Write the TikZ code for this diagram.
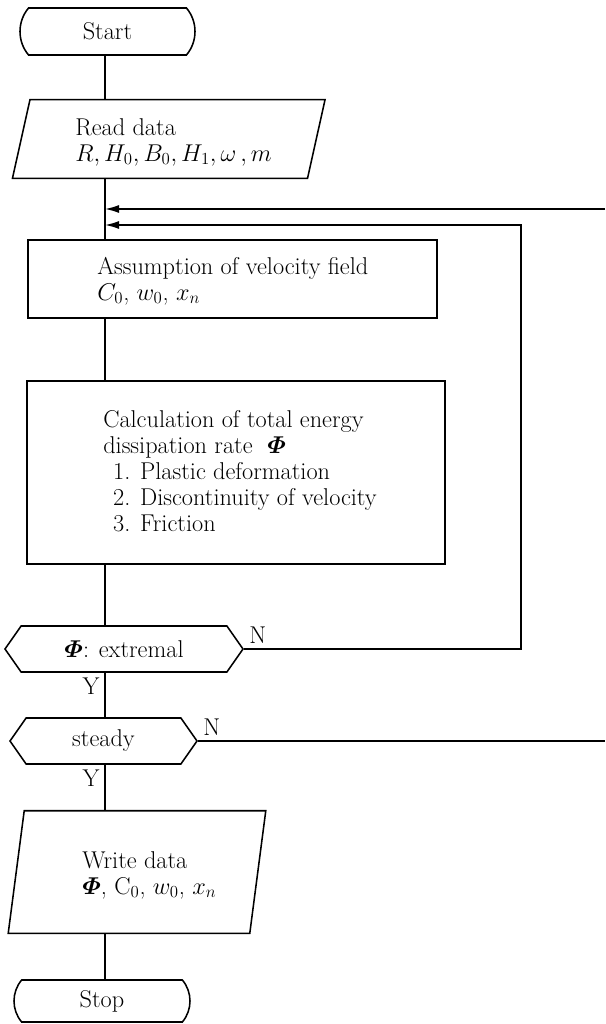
\documentclass[tikz,border=0pt]{standalone}
\usepackage{amsmath}
\usepackage{bm}
\usetikzlibrary{arrows.meta}
\usetikzlibrary{shapes.misc,shapes.symbols}
\tikzset{>={Latex[length=3.5mm,width=2mm]}}
\newcommand{\pu}{0.025cm}
\tikzset{
  flow/.style={draw, line width=1.1pt, inner sep=0pt},
  termbox/.style={flow, rounded rectangle, rounded rectangle arc length=80},
  iobox/.style={inner sep=0pt},
  procbox/.style={flow, rectangle},
  testbox/.style={flow, signal, signal to=west and east, signal pointer angle=110},
  txt/.style={anchor=west, align=left, inner sep=0pt},
  wire/.style={line width=1.1pt},
}

\begin{document}
\begin{tikzpicture}[x=0.025cm,y=-0.025cm,font=\fontsize{17.28}{18.5}\selectfont]
\useasboundingbox (0,0) rectangle (605,1024);
\coordinate (trunk) at (105,0);

\node[termbox, minimum width=175*\pu, minimum height=47*\pu] (start) at (107.5,31.5) {Start};

\node[iobox, minimum width=294.5*\pu, minimum height=78*\pu] (read) at (168.75,139) {};
\draw[wire] ([xshift=-8.75*\pu]read.south west) -- ([xshift=8.75*\pu]read.north west)
  -- ([xshift=8.75*\pu]read.north east) -- ([xshift=-8.75*\pu]read.south east) -- cycle;
\node[txt] (readtext) at (75,142) {Read data\\ $R, H_0, B_0, H_1, \omega\,, m$};

\node[procbox, minimum width=409*\pu, minimum height=78*\pu] (assume) at (232.5,279) {};
\node[txt] (assumetext) at (97,281) {Assumption of velocity field\\ $C_0$, $w_0$, $x_n$};

\node[procbox, minimum width=418*\pu, minimum height=183*\pu] (calc) at (236,472.5) {};
\node[txt] (calctext) at (103,471) {Calculation of total energy\\ dissipation rate \ $\bm{\varPhi}$\\
  \hspace*{7pt}1. Plastic deformation\\ \hspace*{7pt}2. Discontinuity of velocity\\ \hspace*{7pt}3. Friction};

\node[testbox, minimum width=238*\pu, minimum height=46*\pu] (ext) at (124,649) {$\bm{\varPhi}$: extremal};
\node[testbox, minimum width=187*\pu, minimum height=46*\pu] (steady) at (103.5,741) {steady};

\node[iobox, minimum width=241*\pu, minimum height=122*\pu] (write) at (137,872) {};
\draw[wire] ([xshift=-8*\pu]write.south west) -- ([xshift=8*\pu]write.north west)
  -- ([xshift=8*\pu]write.north east) -- ([xshift=-8*\pu]write.south east) -- cycle;
\node[txt] (writetext) at (82,875) {Write data\\ $\bm{\varPhi}$, C$_0$, $w_0$, $x_n$};

\node[termbox, minimum width=176*\pu, minimum height=42*\pu] (stop) at (102,1001) {Stop};

\draw[wire] (start.south -| trunk) -- (read.north -| trunk);
\draw[wire] (read.south -| trunk) -- (assume.north -| trunk);
\draw[wire] (assume.south -| trunk) -- (calc.north -| trunk);
\draw[wire] (calc.south -| trunk) -- (ext.north -| trunk);
\draw[wire] (ext.south -| trunk) node[below left]{Y} -- (steady.north -| trunk);
\draw[wire] (steady.south -| trunk) node[below left]{Y} -- (write.north -| trunk);
\draw[wire] (write.south -| trunk) -- (stop.north -| trunk);

% loops back to the velocity field
\coordinate (back) at (521,225);
\coordinate (feed) at (605,209);
\coordinate (away) at (605,741);
\draw[wire,->] (ext.east) node[above right]{N} -| (back) -- (back -| trunk);
\draw[wire] (steady.east) node[above right]{N} -- (steady.east -| away);
\draw[wire,->] (feed) -- (feed -| trunk);

\end{tikzpicture}
\end{document}
